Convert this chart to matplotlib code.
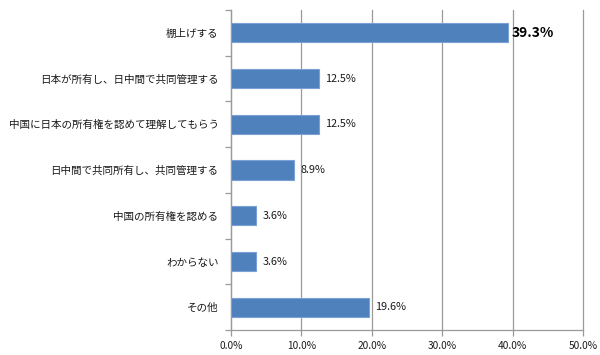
import matplotlib
matplotlib.use("Agg")
import matplotlib.pyplot as plt
from matplotlib.ticker import FuncFormatter, FixedLocator

plt.rcParams['font.family'] = ['Noto Sans CJK JP', 'DejaVu Sans']

categories = ["棚上げする", "日本が所有し、日中間で共同管理する", "中国に日本の所有権を認めて理解してもらう",
              "日中間で共同所有し、共同管理する", "中国の所有権を認める", "わからない", "その他"]
values = [39.3, 12.5, 12.5, 8.9, 3.6, 3.6, 19.6]
xticks = [0, 10, 20, 30, 40, 50]

fig = plt.figure(figsize=(6.0, 3.55), dpi=100)
ax = fig.add_axes([0.385, 0.070, 0.587, 0.902])

n = len(categories)
ypos = list(range(n))
ax.barh(ypos, values, height=0.42, color="#4F81BD", edgecolor="#7BA1D4", linewidth=0.8, zorder=3)
ax.set_xlim(0, 50)
ax.set_ylim(n - 0.5, -0.5)
ax.xaxis.set_major_locator(FixedLocator(xticks))
ax.xaxis.set_major_formatter(FuncFormatter(lambda v, p: f"{v:.1f}%"))
ax.grid(axis="x", color="#9A9A9A", linewidth=0.9, zorder=0)
for gl in ax.get_xgridlines():
    gl.set_clip_on(False)
ax.set_yticks(ypos)
ax.set_yticklabels(categories, fontsize=7.6, color="#1a1a1a")
ax.set_yticks([i - 0.5 for i in range(n + 1)], minor=True)
ax.tick_params(axis="y", which="major", length=0, pad=9)
ax.tick_params(axis="y", which="minor", length=4, color="#9A9A9A", width=0.9)
ax.tick_params(axis="x", length=4, color="#9A9A9A", width=0.9, labelsize=7.3, pad=4, labelcolor="#1a1a1a")
for s in ["top", "right"]:
    ax.spines[s].set_visible(False)
ax.spines["left"].set_color("#9A9A9A")
ax.spines["bottom"].set_color("#9A9A9A")
ax.spines["left"].set_linewidth(0.9)
ax.spines["bottom"].set_linewidth(0.9)

for i, v in enumerate(values):
    if i == 0:
        ax.text(v + 0.5, i, f"{v:.1f}%", va="center", ha="left", fontsize=10, fontweight="bold", color="black")
    else:
        ax.text(v + 0.9, i, f"{v:.1f}%", va="center", ha="left", fontsize=7.8, color="#1a1a1a")

fig.savefig("out.png", dpi=100)
